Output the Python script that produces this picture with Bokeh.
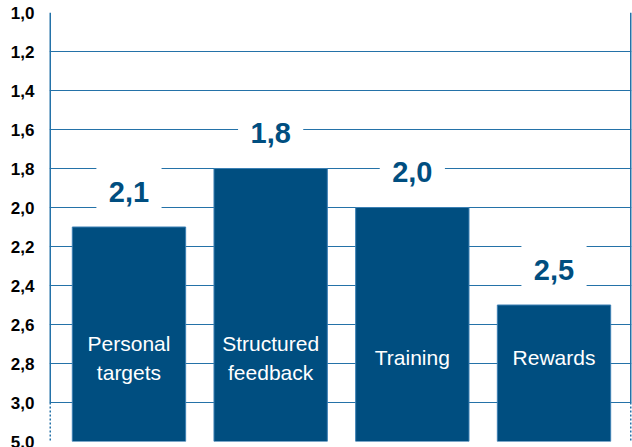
from bokeh.plotting import figure
from bokeh.models import Range1d, FixedTicker, ColumnDataSource
from bokeh.core.properties import value
from bokeh.embed import file_html
from bokeh.resources import INLINE

# ---- data ----
categories = ["Personal\ntargets", "Structured\nfeedback", "Training", "Rewards"]
scores = [2.1, 1.8, 2.0, 2.5]
score_labels = ["2,1", "1,8", "2,0", "2,5"]
tick_values = [1.0, 1.2, 1.4, 1.6, 1.8, 2.0, 2.2, 2.4, 2.6, 2.8, 3.0, 5.0]
tick_labels = ["1,0", "1,2", "1,4", "1,6", "1,8", "2,0", "2,2", "2,4", "2,6", "2,8", "3,0", "5,0"]
base_value = 5.0

# broken axis: 3.0 -> 5.0 compressed into one step of 0.2
def pos(v):
    return v if v <= 3.0 else 3.2

BAR = "#004e80"
GRID = "#2472a8"
FONT = "Liberation Sans"

idx = list(range(len(categories)))
src = ColumnDataSource(dict(
    x=idx,
    top=[pos(v) for v in scores],
    bottom=[pos(base_value)] * len(scores),
    lab=score_labels,
    laby=[pos(v) - 0.18 for v in scores],
    boxy=[pos(v) - 0.175 for v in scores],
    cat=categories,
))

p = figure(width=632, height=447, output_backend="svg", toolbar_location=None,
           x_range=Range1d(-0.561, 3.547), y_range=Range1d(pos(base_value), 1.0),
           min_border_left=49, min_border_right=1, min_border_top=12, min_border_bottom=6)
p.outline_line_color = None
p.background_fill_color = "white"
p.border_fill_color = "white"

ticks = [pos(v) for v in tick_values]
p.yaxis.ticker = FixedTicker(ticks=ticks)
p.yaxis.major_label_overrides = {pos(v): l for v, l in zip(tick_values, tick_labels)}
p.yaxis.axis_line_color = None
p.yaxis.major_tick_line_color = None
p.yaxis.minor_tick_line_color = None
p.yaxis.major_label_text_font = FONT
p.yaxis.major_label_text_font_style = "bold"
p.yaxis.major_label_text_font_size = "17px"
p.yaxis.major_label_text_color = "black"
p.yaxis.major_label_standoff = 9
p.xaxis.visible = False
p.xgrid.visible = False
p.ygrid.ticker = FixedTicker(ticks=ticks)
p.ygrid.grid_line_color = GRID
p.ygrid.grid_line_width = 1.2

# frame side lines: solid to 3.0, dashed for the break
x0, x1 = -0.561, 3.547
p.segment(x0=[x0, x1], y0=[1.0, 1.0], x1=[x0, x1], y1=[3.0, 3.0], line_color=GRID, line_width=3)
p.segment(x0=[x0, x1], y0=[3.0, 3.0], x1=[x0, x1], y1=[3.2, 3.2], line_color=GRID, line_width=3,
          line_dash="2 2")

# white label boxes interrupting grid lines
p.rect(x="x", y="boxy", width=0.46, height=0.27, source=src, fill_color="white", line_color=None)

p.vbar(x="x", top="top", bottom="bottom", width=0.80, source=src,
       fill_color=BAR, line_color="#3b7fb3", line_width=1)

p.text(x="x", y="laby", text="lab", source=src, text_font=value(FONT), text_font_style="bold",
       text_font_size="29px", text_color=BAR, text_align="center", text_baseline="middle")

p.text(x="x", y=2.77, text="cat", source=src, text_font=value(FONT),
       text_font_size="21px", text_color="white", text_align="center", text_baseline="middle",
       text_line_height=1.25)

open("out.html", "w").write(file_html(p, INLINE))
